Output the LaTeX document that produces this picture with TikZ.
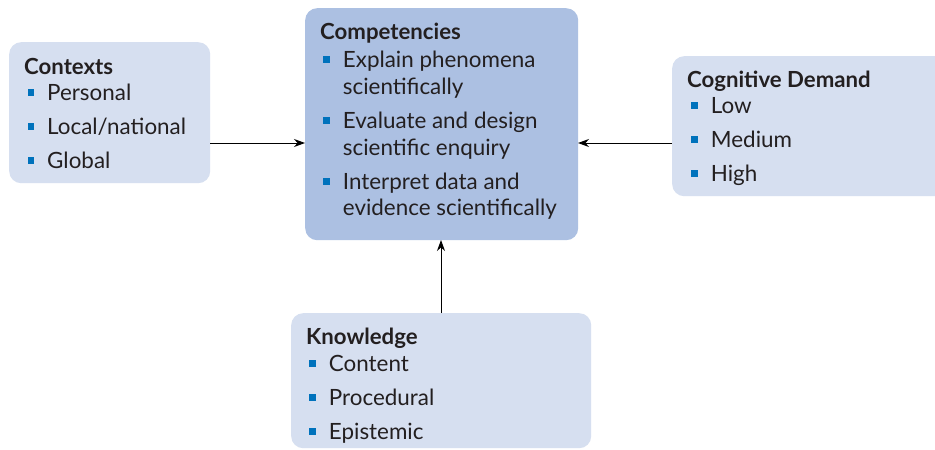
\documentclass[tikz,border=0pt]{standalone}
\usepackage{fontspec}
\setmainfont{Lato}
\usetikzlibrary{arrows.meta}
\definecolor{boxlight}{RGB}{214,223,240}
\definecolor{boxdark}{RGB}{172,192,226}
\definecolor{bulblue}{RGB}{0,114,188}
\definecolor{txt}{RGB}{35,31,32}
\newcommand\bulsq{\textcolor{bulblue}{\rule[4.3pt]{6.5pt}{6.5pt}}\hspace{13.2pt}}
\tikzset{
  panel/.style={rounded corners=12pt, anchor=north west, inner sep=0pt, draw=none},
  head/.style={anchor=base west, inner sep=0pt, text=txt, font=\fontsize{22.2}{25}\selectfont\bfseries},
  itm/.style={anchor=base west, inner sep=0pt, text=txt, font=\fontsize{22.4}{25}\selectfont},
  conn/.style={draw=black, line width=0.9pt, -{Stealth[length=11pt,width=8pt]}}
}
\begin{document}
\begin{tikzpicture}[x=1pt,y=-1pt]
\useasboundingbox[fill=white] (0,0) rectangle (935,450);
% boxes
\node[panel, fill=boxlight, minimum width=201pt, minimum height=141pt] (ctx) at (9,42) {};
\node[panel, fill=boxdark, minimum width=273pt, minimum height=232pt] (comp) at (305,8) {};
\node[panel, fill=boxlight, minimum width=275pt, minimum height=140pt] (cog) at (672,56) {};
\node[panel, fill=boxlight, minimum width=300pt, minimum height=135pt] (know) at (291,313) {};
% contexts
\node[head] (ctxh) at (24,74) {Contexts};
\node[itm] (ctx1) at (27.3,100) {\bulsq Personal};
\node[itm] (ctx2) at (27.3,134) {\bulsq Local/national};
\node[itm] (ctx3) at (27.3,168) {\bulsq Global};
% competencies
\node[head] (comph) at (320,39) {Competencies};
\node[itm] (comp1) at (323,67) {\bulsq Explain phenomena};
\node[itm] (comp1b) at (342.7,94) {scientifically};
\node[itm] (comp2) at (323,128) {\bulsq Evaluate and design};
\node[itm] (comp2b) at (342.7,155) {scientific enquiry};
\node[itm] (comp3) at (323,189) {\bulsq Interpret data and};
\node[itm] (comp3b) at (342.7,215) {evidence scientifically};
% cognitive demand
\node[head] (cogh) at (687,87) {Cognitive Demand};
\node[itm] (cog1) at (691,113) {\bulsq Low};
\node[itm] (cog2) at (691,147) {\bulsq Medium};
\node[itm] (cog3) at (691,181) {\bulsq High};
% knowledge
\node[head] (knowh) at (306,344) {Knowledge};
\node[itm] (know1) at (309,371) {\bulsq Content};
\node[itm] (know2) at (309,405) {\bulsq Procedural};
\node[itm] (know3) at (309,439) {\bulsq Epistemic};
% connectors
\coordinate (a1) at (210,143);
\coordinate (a2) at (305,143);
\coordinate (b1) at (672,143);
\coordinate (b2) at (578,143);
\coordinate (c1) at (441,313);
\coordinate (c2) at (441,240);
\draw[conn] (a1) -- (a2);
\draw[conn] (b1) -- (b2);
\draw[conn] (c1) -- (c2);
\end{tikzpicture}
\end{document}
